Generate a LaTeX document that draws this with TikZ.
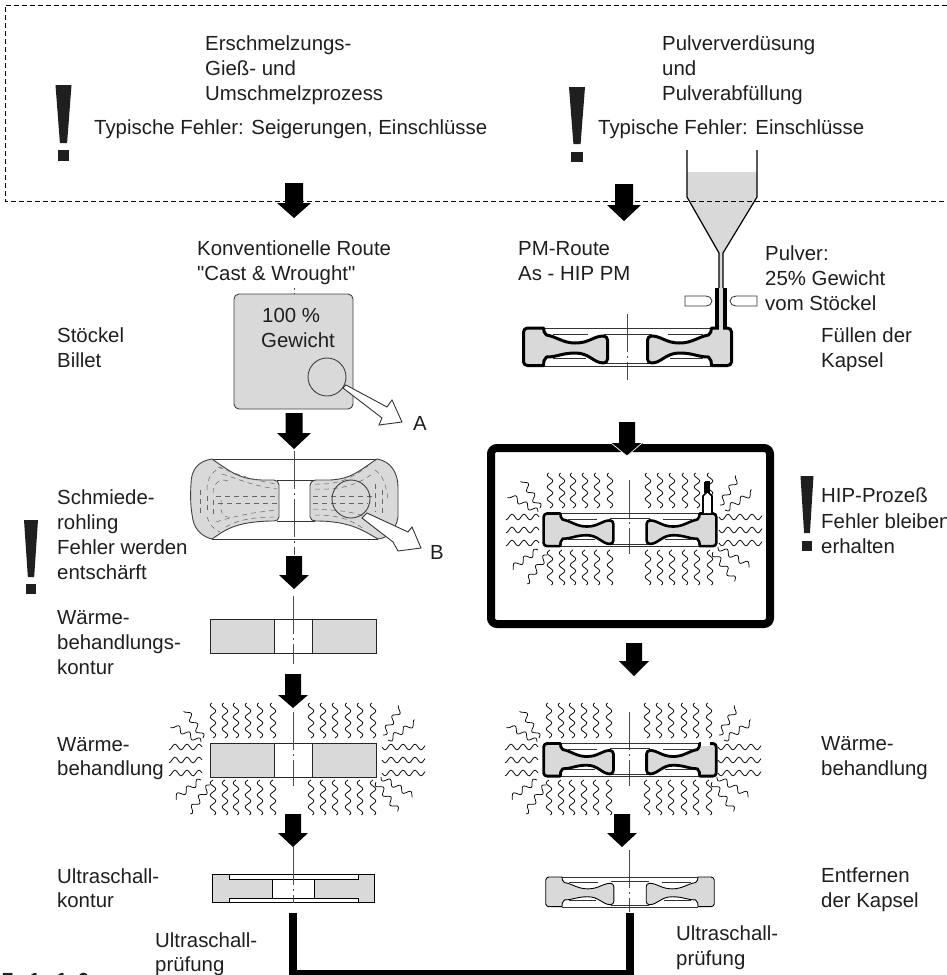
\documentclass[tikz,border=0pt]{standalone}
\usepackage{fontspec}
\setmainfont{Liberation Sans}
\newfontfamily\plainfont{Liberation Sans}
\definecolor{fillgray}{gray}{0.85}
\definecolor{inkblack}{gray}{0.12}
\tikzset{
  label/.style={anchor=west,inner sep=0pt,text height=14pt,text depth=0pt,font=\fontsize{20.4}{24}\selectfont,text=inkblack},
  axisline/.style={line width=0.6pt,draw=black!70,dash pattern=on 38pt off 4pt on 2pt off 4pt},
  thin part/.style={line width=0.9pt,draw=black!80},
  openarrow/.style={fill=white,draw=black!80,line width=0.9pt,line join=miter},
  flow/.style={line width=0.5pt,draw=black!60,dash pattern=on 5pt off 4pt},
}
% block arrow: x, top, neck, tip, half shaft, half head
\newcommand{\blockarrow}[6]{\fill[black] (#1-#5,#2) -- (#1+#5,#2) -- (#1+#5,#3) -- (#1+#6,#3) -- (#1,#4) -- (#1-#6,#3) -- (#1-#5,#3) -- cycle;}
% exclamation mark: x, top, y bottom of bar, dot top, dot bottom, half width
\newcommand{\exclaim}[6]{\fill[inkblack] (#1-#6,#2) -- (#1+#6,#2) -- (#1+0.45*#6,#3) -- (#1-0.45*#6,#3) -- cycle;
  \fill[inkblack] (#1-0.72*#6,#4) rectangle (#1+0.72*#6,#5);}
% one sine-shaped heat wave from (#1,#2) to (#3,#4)
\newcommand{\wavy}[4]{\pgfmathsetmacro{\wl}{veclen(#3-(#1),#4-(#2))}\pgfmathsetmacro{\wa}{atan2(-(#4-(#2)),#3-(#1))}
  \draw[line width=0.75pt,line join=round,shift={(#1,#2)},rotate=\wa] plot[domain=0:\wl,samples=36,variable=\t] (\t,{2.8*sin(\t*30)});}
% heat waves round a part at (#1,#2)
\newcommand{\heatwaves}[2]{\begin{scope}[shift={(#1,#2)}]
  \foreach \dx in {-80,-68,-57,-45,-33,-20,18,30,42,55,67,80} {
    \wavy{\dx}{-22}{\dx}{-57}
    \wavy{\dx}{20}{\dx}{55}
  }
  \foreach \dy in {-13,0,13} {
    \wavy{-91}{\dy}{-124}{\dy}
    \wavy{89}{\dy}{132}{\dy}
  }
  \wavy{-90}{-22}{-107}{-50}
  \wavy{-92}{-18}{-121}{-35}
  \wavy{90}{-25}{108}{-53}
  \wavy{95}{-20}{123}{-38}
  \wavy{-92}{20}{-118}{38}
  \wavy{-83}{25}{-104}{53}
  \wavy{88}{17}{120}{36}
  \wavy{83}{22}{105}{51}
\end{scope}}
% disc halves: scope-local profile
\newcommand{\lefthalf}{(-100,-19) -- (-84,-19) to[out=-80,in=150] (-81,-12) .. controls (-70,-10) and (-65,-4) .. (-52,-4) .. controls (-38,-4) and (-34,-11) .. (-24,-11) to[out=0,in=90] (-20,-7) -- (-20,12) to[out=-90,in=0] (-24,16) .. controls (-34,16) and (-38,6) .. (-52,6) .. controls (-66,6) and (-70,10) .. (-81,10) to[out=-140,in=90] (-84,18.5) -- (-100,18.5) to[out=180,in=-90] (-104,15) -- (-104,-15) to[out=90,in=180] cycle}
\newcommand{\righthalf}{(100,-19) -- (84,-19) to[out=-100,in=30] (81,-12) .. controls (70,-10) and (65,-4) .. (52,-4) .. controls (38,-4) and (34,-11) .. (24,-11) to[out=180,in=90] (20,-7) -- (20,12) to[out=-90,in=180] (24,16) .. controls (34,16) and (38,6) .. (52,6) .. controls (66,6) and (70,10) .. (81,10) to[out=-40,in=90] (84,18.5) -- (100,18.5) to[out=0,in=-90] (104,15) -- (104,-15) to[out=90,in=0] cycle}
% capsule: x, y, xscale, yscale, outline width
\newcommand{\capsule}[5]{\begin{scope}[shift={(#1,#2)},xscale=#3,yscale=#4]
  \draw[thin part] (-84,-19) -- (84,-19) (-24,-13) -- (24,-13) (-24,16.5) -- (24,16.5) (-84,19) -- (84,19);
  \draw[thin part,line width=0.6pt] (-75,-12.5) -- (-40,-12.5) (-75,11) -- (-42,11) (40,-12.5) -- (75,-12.5) (42,11) -- (75,11);
  \filldraw[fill=fillgray,draw=black,line width=#5,line join=round] \lefthalf;
  \filldraw[fill=fillgray,draw=black,line width=#5,line join=round] \righthalf;
\end{scope}}
\begin{document}
\begin{tikzpicture}[x=1pt,y=-1pt]
\useasboundingbox (0,0) rectangle (947,975);
\fill[white] (0,0) rectangle (947,975);

% powder funnel fill
\fill[fillgray] (687,172) -- (757,172) -- (757,197) -- (723,253) -- (723,288) -- (719,288) -- (719,253) -- (687,197) -- cycle;
% dashed process frame
\draw[line width=0.7pt,dash pattern=on 5pt off 3pt] (947,5) -- (5,5) -- (5,201) -- (947,201);

% top texts
\node[label] (t1) at (205,43) {Erschmelzungs-};
\node[label] (t2) at (205,68) {Gieß- und};
\node[label] (t3) at (205,93) {Umschmelzprozess};
\node[label] (t4) at (94,127) {Typische Fehler: Seigerungen, Einschlüsse};
\node[label] (t5) at (662,43) {Pulververdüsung};
\node[label] (t6) at (662,68) {und};
\node[label] (t7) at (662,93) {Pulverabfüllung};
\node[label] (t8) at (598,127) {Typische Fehler: Einschlüsse};
\exclaim{63.5}{85}{143}{150}{161}{8}
\exclaim{577}{87}{144}{152}{162}{8}

\blockarrow{294}{183}{203}{218}{9}{17}
\blockarrow{624}{184}{205}{221}{9}{17}

% funnel outline
\draw[line width=1.2pt,line join=round] (687,150) -- (687,197) -- (719,253) -- (719,288);
\draw[line width=1.2pt,line join=round] (757,150) -- (757,197) -- (723,253) -- (723,288);
\draw[line width=3.6pt] (717,288) -- (717,330);
\draw[line width=3.6pt] (725,288) -- (725,330);
\fill[fillgray] (719,288) rectangle (723,334);
\filldraw[fill=white,draw=black!80,line width=0.8pt] (685,296) -- (706,296) to[out=0,in=90] (712,301) to[out=-90,in=0] (706,306) -- (685,306) -- cycle;
\filldraw[fill=white,draw=black!80,line width=0.8pt] (757,296) -- (736,296) to[out=180,in=90] (730,301) to[out=-90,in=180] (736,306) -- (757,306) -- cycle;

\node[label] (r1) at (197,248) {Konventionelle Route};
\node[label] (r2) at (197,273) {\plainfont "Cast \& Wrought"};
\node[label] (r3) at (518,248) {PM-Route};
\node[label] (r4) at (518,273) {As - HIP PM};
\node[label] (p1) at (765,253) {Pulver:};
\node[label] (p2) at (765,278) {25\% Gewicht};
\node[label] (p3) at (765,303) {vom Stöckel};

% billet
\draw[axisline,dash pattern=on 2pt off 3pt] (294,288) -- (294,294);
\filldraw[fill=fillgray,draw=black!75,line width=0.9pt,rounded corners=5pt] (234,294) rectangle (353,409);
\node[label] (b1) at (262,315) {100 \%};
\node[label] (b2) at (261,340) {Gewicht};
\filldraw[fill=fillgray,draw=black!75,line width=0.9pt] (327,377) circle (19);
\filldraw[openarrow] (346,385) -- (387,407) -- (392,400) -- (402,422) -- (379,425) -- (382,418) -- (343,388) -- cycle;
\node[label,anchor=center] (lA) at (420,423) {A};
\node[label] (l1) at (57,335) {Stöckel};
\node[label] (l2) at (57,360) {Billet};

\blockarrow{294}{413}{433}{449}{8.5}{17}

% forged blank
\draw[thin part] (212,459) -- (377,459) (277,480) -- (315,480) (277,521) -- (315,521) (212,539) -- (378,539);
\filldraw[fill=fillgray,draw=black!75,line width=0.9pt] (212,459) .. controls (198,461) and (191,470) .. (191,484) .. controls (190,500) and (191,510) .. (193,520) .. controls (195,530) and (203,537) .. (212,539) .. controls (225,530) and (235,522) .. (270,521) -- (274,521) to[out=0,in=-90] (279,517) -- (279,485) to[out=90,in=0] (274,480) -- (262,480) .. controls (240,479) and (232,473) .. (212,459) -- cycle;
\filldraw[fill=fillgray,draw=black!75,line width=0.9pt] (377,459) .. controls (390,461) and (398,472) .. (398,487) -- (398,517) .. controls (396,530) and (388,538) .. (378,539) .. controls (365,532) and (352,521) .. (316,521) to[out=180,in=-90] (310,517) -- (310,486) to[out=90,in=180] (316,480) -- (330,480) .. controls (352,479) and (360,470) .. (377,459) -- cycle;
% flow lines
\draw[flow] (218,467) .. controls (232,472) and (250,480) .. (277,484);
\draw[flow] (222,474) .. controls (236,478) and (252,486) .. (277,489);
\draw[flow] (207,490) .. controls (207,475) and (215,470) .. (222,467);
\draw[flow] (213,493) .. controls (213,482) and (222,477) .. (230,482);
\draw[flow] (216,496) -- (277,496);
\draw[flow] (218,503) -- (277,503);
\draw[flow] (200,490) -- (200,515);
\draw[flow] (207,496) -- (207,512);
\draw[flow] (213,500) -- (213,517);
\draw[flow] (221,500) -- (221,510) .. controls (222,516) and (226,518) .. (232,517);
\draw[flow] (207,517) .. controls (210,525) and (214,530) .. (220,532);
\draw[flow] (216,522) .. controls (235,516) and (255,512) .. (277,510);
\draw[flow] (226,527) .. controls (240,518) and (262,517) .. (277,517);
\draw[flow] (315,484) .. controls (335,485) and (350,480) .. (368,466);
\draw[flow] (315,489) .. controls (335,490) and (355,487) .. (372,474);
\draw[flow] (313,496) -- (372,496);
\draw[flow] (313,503) -- (368,503);
\draw[flow] (313,509) .. controls (330,510) and (355,510) .. (372,520);
\draw[flow] (315,515) .. controls (335,515) and (350,518) .. (365,530);
\draw[flow] (375,470) .. controls (382,475) and (386,482) .. (388,500);
\draw[flow] (382,490) -- (382,515);
\draw[flow] (375,484) -- (375,512);
\draw[black!75,line width=0.9pt] (351,499) circle (19);
\filldraw[openarrow] (367,513) -- (408,532) -- (412,527) -- (421,548) -- (398,551) -- (393,542) -- (362,518) -- cycle;
\node[label,anchor=center] (lB) at (437,552) {B};
\draw[axisline] (294,451) -- (294,555);

\node[label] (f1) at (57,497) {Schmiede-};
\node[label] (f2) at (57,522) {rohling};
\node[label] (f3) at (57,547) {Fehler werden};
\node[label] (f4) at (57,572) {entschärft};
\exclaim{31}{520}{577}{584}{594}{7}

\blockarrow{294}{556}{575}{589}{8}{15}

% heat-treatment contour
\filldraw[fill=fillgray,draw=black!85,line width=0.9pt] (210,619) rectangle (274,653);
\filldraw[fill=fillgray,draw=black!85,line width=0.9pt] (312,619) rectangle (376,653);
\draw[black!85,line width=0.9pt] (274,619) -- (312,619) (274,653) -- (312,653);
\draw[axisline] (293,596) -- (293,664);
\node[label] (w1) at (57,617) {Wärme-};
\node[label] (w2) at (57,642) {behandlungs-};
\node[label] (w3) at (57,667) {kontur};

\blockarrow{293}{674}{695}{708}{8}{15}

% heat treatment, left
\heatwaves{293}{760}
\filldraw[fill=fillgray,draw=black!85,line width=0.9pt] (210,743) rectangle (274,777);
\filldraw[fill=fillgray,draw=black!85,line width=0.9pt] (312,743) rectangle (376,777);
\draw[black!85,line width=0.9pt] (274,743) -- (312,743) (274,777) -- (312,777);
\draw[axisline] (293,712) -- (293,786);
\node[label] (h1) at (57,744) {Wärme-};
\node[label] (h2) at (57,768) {behandlung};

\blockarrow{293}{814}{833}{847}{8}{15}

% ultrasonic contour
\filldraw[fill=fillgray,draw=black,line width=0.9pt] (212,874) -- (229,874) -- (229,879) -- (358,879) -- (358,874) -- (374,874) -- (374,902) -- (358,902) -- (358,898) -- (229,898) -- (229,902) -- (212,902) -- cycle;
\draw[black,line width=0.9pt] (229,874) -- (358,874) (229,902) -- (358,902);
\filldraw[fill=white,draw=black,line width=0.9pt] (272,879) rectangle (314,898);
\draw[axisline] (293,847) -- (293,903);
\node[label] (u1) at (57,876) {Ultraschall-};
\node[label] (u2) at (57,900) {kontur};
\node[label] (u3) at (155,940) {Ultraschall-};
\node[label] (u4) at (155,964) {prüfung};

% right column: filling
\draw[axisline] (627.5,314) -- (627.5,380);
\capsule{627.5}{347}{1}{1}{3pt}
\fill[fillgray] (719,326) rectangle (723,332);
\node[label] (c1) at (821,335) {Füllen der};
\node[label] (c2) at (821,360) {Kapsel};

% HIP vessel
\draw[line width=8pt,rounded corners=6pt] (491,448) rectangle (770,624);
\heatwaves{630}{530}
\draw[axisline] (629,480) -- (629,554);
\capsule{630}{530}{0.83}{0.87}{2.6pt}
\filldraw[fill=white,draw=black,line width=1.6pt] (703,513) -- (703,496) -- (706,493) -- (706,482) -- (709,482) -- (709,493) -- (712,496) -- (712,513);
\fill[black] (704,482) rectangle (709,493);
\blockarrow{627}{422}{443}{456}{8}{16}
\draw[white,line width=0.7pt] (611,443) -- (627,456) -- (642,443);
\node[label] (k1) at (821,495) {HIP-Prozeß};
\node[label] (k2) at (821,521) {Fehler bleiben};
\node[label] (k3) at (821,546) {erhalten};
\exclaim{807}{476}{533}{541}{551}{6.5}

\blockarrow{634}{643}{661}{676}{8}{15}

% heat treatment, right
\heatwaves{629}{760}
\draw[axisline] (629,712) -- (629,786);
\capsule{630}{760}{0.83}{0.87}{2.8pt}
\fill[white] (701,740) rectangle (710,746);
\fill[fillgray] (701,746) rectangle (710,749);
\node[label] (s1) at (821,743) {Wärme-};
\node[label] (s2) at (821,768) {behandlung};

\blockarrow{622}{814}{833}{847}{8}{15}

% capsule removed
\draw[axisline] (629,850) -- (629,912);
\capsule{630}{892}{0.81}{0.79}{0.9pt}
\node[label] (e1) at (821,875) {Entfernen};
\node[label] (e2) at (821,900) {der Kapsel};
\node[label] (v1) at (676,933) {Ultraschall-};
\node[label] (v2) at (676,958) {prüfung};

% closing connector
\coordinate (cl) at (293,913);
\coordinate (cr) at (630,913);
\draw[line width=8.5pt,line join=miter] (cl) -- (293,974) -- (630,974) -- (cr);

\node[anchor=base west,inner sep=0pt,font=\fontsize{20.4}{24}\selectfont\bfseries,text=inkblack] (fig) at (2,987) {7\hspace{5pt}.\hspace{5pt}1\hspace{5pt}.\hspace{5pt}1\hspace{10pt}6};
\end{tikzpicture}
\end{document}
